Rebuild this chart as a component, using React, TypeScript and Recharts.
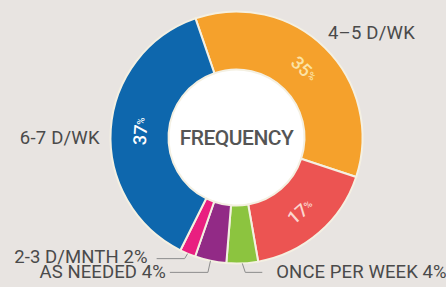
import { PieChart, Pie, Cell } from 'recharts';

// clockwise from the top, starting at the orange slice
const categories = ['4–5 D/WK', '', 'ONCE PER WEEK', 'AS NEEDED', '2-3 D/MNTH', '6-7 D/WK'];
const shares = [35, 17, 4, 4, 2, 37];
const colors = ['#f5a12c', '#ec5452', '#8cc43f', '#922a86', '#e91f80', '#0e67ad'];
const centerTitle = 'FREQUENCY';

const data = categories.map((name, i) => ({ name, value: shares[i] }));
const hole = [{ name: centerTitle, value: 1 }];

const RAD = Math.PI / 180;
const textColor = '#4a4a4a';

// how each slice gets its label
const labelStyle: Record<number, any> = {
  0: { kind: 'name', dx: 3, dy: -15, anchor: 'start', ink: '#fbe3a6' },
  1: { kind: 'inside', ink: '#fbd6cf' },
  2: { kind: 'leader', bx: 3, by: 9, hx: 17, gap: 14 },
  3: { kind: 'leader', bx: -2.6, by: 11.6, hx: -38, gap: 4 },
  4: { kind: 'leader', bx: -3, by: 5, hx: -28, gap: 9, ty: -2 },
  5: { kind: 'name', dx: -11, dy: 9, anchor: 'end', ink: '#ffffff' },
};

const renderCenter = (props: any) => (
  <text
    x={props.cx}
    y={props.cy}
    textAnchor="middle"
    dominantBaseline="central"
    fill="#555555"
    fontFamily="Roboto"
    fontWeight={500}
    fontSize={21}
    letterSpacing={-0.5}
  >
    {props.name}
  </text>
);

const renderLabel = (props: any) => {
  const { cx, cy, midAngle, innerRadius, outerRadius, index, value, name } = props;
  const st = labelStyle[index];
  const cos = Math.cos(-midAngle * RAD);
  const sin = Math.sin(-midAngle * RAD);
  const parts: any[] = [];

  if (st.kind === 'inside' || st.kind === 'name') {
    const r = (innerRadius + outerRadius) / 2;
    const x = cx + r * cos;
    const y = cy + r * sin;
    let a = 90 - midAngle;
    while (a > 180) a -= 360;
    while (a < -180) a += 360;
    if (a > 90) a -= 180;
    if (a < -90) a += 180;
    parts.push(
      <text
        key="in"
        x={x}
        y={y}
        transform={`rotate(${a} ${x} ${y})`}
        textAnchor="middle"
        dominantBaseline="central"
        fill={st.ink}
        fontFamily="Roboto"
        fontWeight={500}
      >
        <tspan fontSize={18}>{value}</tspan>
        <tspan fontSize={10}>%</tspan>
      </text>
    );
  }

  if (st.kind === 'name') {
    const ox = cx + outerRadius * cos;
    const oy = cy + outerRadius * sin;
    parts.push(
      <text
        key="name"
        x={ox + st.dx}
        y={oy + st.dy}
        textAnchor={st.anchor}
        dominantBaseline="central"
        fill={textColor}
        fontFamily="Roboto"
        fontSize={18.5}
        letterSpacing={0.2}
      >
        {name}
      </text>
    );
  }

  if (st.kind === 'leader') {
    const ox = cx + outerRadius * cos;
    const oy = cy + outerRadius * sin;
    const x1 = ox + st.bx;
    const y1 = oy + st.by;
    const x2 = x1 + st.hx;
    const left = st.hx < 0;
    parts.push(
      <polyline
        key="line"
        points={`${ox},${oy} ${x1},${y1} ${x2},${y1}`}
        fill="none"
        stroke="#8c8c8c"
        strokeWidth={1}
      />
    );
    parts.push(
      <text
        key="lbl"
        x={left ? x2 - st.gap : x2 + st.gap}
        y={y1 + (st.ty || 0)}
        textAnchor={left ? 'end' : 'start'}
        dominantBaseline="central"
        fill={textColor}
        fontFamily="Roboto"
        fontSize={18.5}
        letterSpacing={0.1}
      >
        {`${name} ${value}%`}
      </text>
    );
  }

  return <g>{parts}</g>;
};

export default function App() {
  return (
    <div style={{ position: 'absolute', left: 0, top: 0, width: 446, height: 287, background: '#e8e4e1' }}>
      <PieChart width={446} height={287} margin={{ top: 0, right: 0, bottom: 0, left: 0 }}>
        <Pie
          data={hole}
          dataKey="value"
          cx={236.5}
          cy={137.5}
          innerRadius={0}
          outerRadius={68}
          fill="#ffffff"
          stroke="none"
          label={renderCenter}
          labelLine={false}
          isAnimationActive={false}
        />
        <Pie
          data={data}
          dataKey="value"
          cx={236.5}
          cy={137.5}
          innerRadius={68}
          outerRadius={126}
          startAngle={109}
          endAngle={-251}
          stroke="#f4f0e2"
          strokeWidth={2}
          label={renderLabel}
          labelLine={false}
          isAnimationActive={false}
        >
          {data.map((d, i) => (
            <Cell key={d.name + i} fill={colors[i]} />
          ))}
        </Pie>
      </PieChart>
    </div>
  );
}
